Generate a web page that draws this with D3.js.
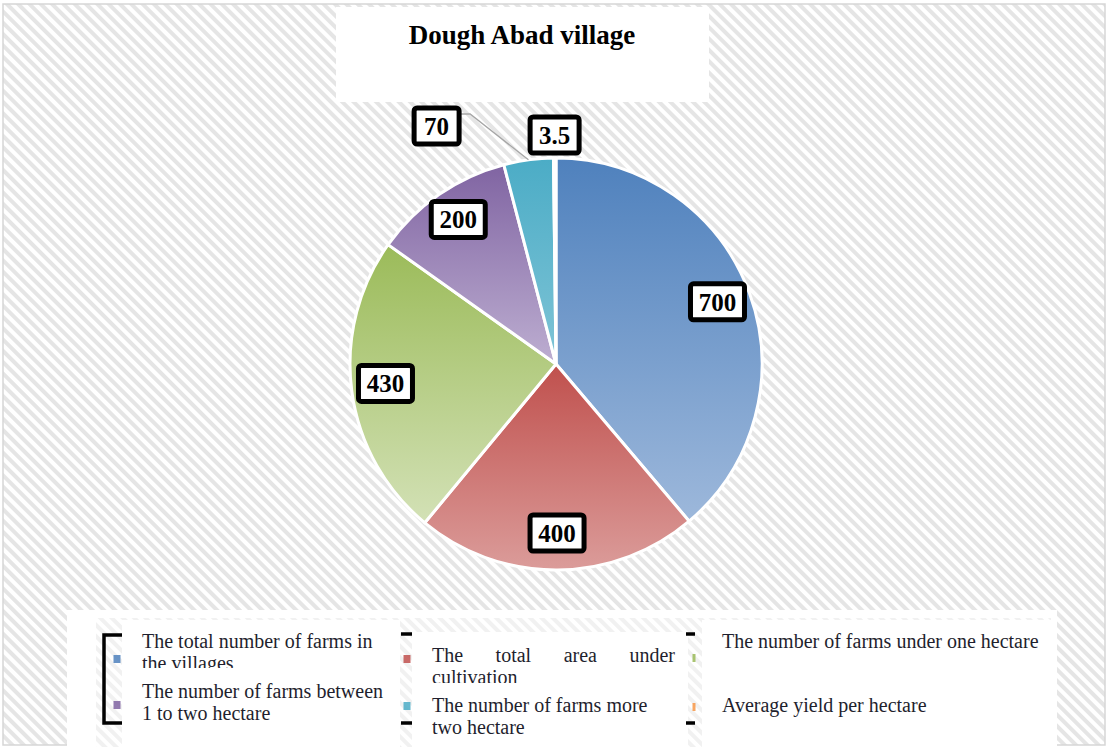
<!DOCTYPE html>
<html>
<head>
<meta charset="utf-8">
<script src="https://cdn.jsdelivr.net/npm/d3@7"></script>
<style>
  html, body { margin: 0; padding: 0; background: #fff; }
  svg { display: block; }
  text { font-family: "Liberation Serif", "Times New Roman", serif; }
</style>
</head>
<body>
<div id="chart"></div>
<script>
// data
var categories = [
  'The total number of farms in the villages',
  'The total area under cultivation',
  'The number of farms under one hectare',
  'The number of farms between 1 to two hectare',
  'The number of farms more two hectare',
  'Average yield per hectare'
];
var values = [700, 400, 430, 200, 70, 3.5];
var valueLabels = ['700', '400', '430', '200', '70', '3.5'];
var topColors = ['#4F81BD', '#C0504D', '#9BBB59', '#8064A2', '#4BACC6', '#F79646'];
var bottomColors = ['#9DB8DB', '#DB9C9A', '#D3E1B6', '#BDAED1', '#7FC4D6', '#FAB98A'];
var title = 'Dough Abad village';

var width = 1107,
	height = 747,
	cx = 556,
	cy = 364,
	radius = 206;

var svg = d3.select('#chart').append('svg')
	.attr('width', width)
	.attr('height', height);

var defs = svg.append('defs');

// diagonal hatch of the chart area
var hatch = defs.append('pattern')
	.attr('id', 'hatch')
	.attr('patternUnits', 'userSpaceOnUse')
	.attr('width', 8)
	.attr('height', 8)
	.attr('patternTransform', 'rotate(-45)');
hatch.append('rect').attr('width', 8).attr('height', 8).attr('fill', '#fff');
hatch.append('rect').attr('width', 4).attr('height', 8).attr('fill', '#E5E5E5');

// one vertical gradient per slice
values.forEach(function(v, i) {
	var g = defs.append('linearGradient')
		.attr('id', 'grad' + i)
		.attr('x1', 0).attr('y1', 0).attr('x2', 0).attr('y2', 1);
	g.append('stop').attr('offset', '0%').attr('stop-color', topColors[i]);
	g.append('stop').attr('offset', '100%').attr('stop-color', bottomColors[i]);
});

svg.append('rect')
	.attr('x', 3).attr('y', 4)
	.attr('width', width - 5).attr('height', height - 6)
	.attr('fill', 'url(#hatch)')
	.attr('stroke', '#D6D6D6')
	.attr('stroke-width', 1.5);

//Title box
svg.append('rect')
	.attr('x', 336).attr('y', 7)
	.attr('width', 373).attr('height', 95)
	.attr('fill', '#fff');
svg.append('text')
	.attr('x', 522).attr('y', 44)
	.attr('text-anchor', 'middle')
	.style('font-size', '27px')
	.style('font-weight', 'bold')
	.text(title);

//Pie
var pie = d3.pie().sort(null).value(function(d) { return d; });
var arcs = pie(values);
var arc = d3.arc().innerRadius(0).outerRadius(radius);
var labelArc = d3.arc().innerRadius(172).outerRadius(172);
var outerArc = d3.arc().innerRadius(radius + 23).outerRadius(radius + 23);
var edgeArc = d3.arc().innerRadius(radius).outerRadius(radius);

var gPie = svg.append('g').attr('transform', 'translate(' + cx + ',' + cy + ')');

gPie.selectAll('path.slice')
	.data(arcs)
	.enter().append('path')
	.attr('class', 'slice')
	.attr('d', arc)
	.attr('fill', function(d, i) { return 'url(#grad' + i + ')'; })
	.attr('stroke', '#fff')
	.attr('stroke-width', 3)
	.attr('stroke-linejoin', 'round');

// label positions: inside for big slices, outside for small ones
var small = 0.3; // radians
var placed = [];
arcs.slice().reverse().forEach(function(d) {
	var i = d.index;
	var w = valueLabels[i].length > 2 ? 54 : 45;
	if (valueLabels[i] === '3.5') w = 49;
	var p;
	if (d.endAngle - d.startAngle > small) {
		p = labelArc.centroid(d);
		p[1] -= 3;
	} else {
		p = outerArc.centroid(d);
		// push away from an already placed outside label
		placed.forEach(function(q) {
			if (Math.abs(q.x - p[0]) < (q.w + w) / 2 + 8 && Math.abs(q.y - p[1]) < 40) {
				p = [q.x - (q.w + w) / 2 - 71, q.y - 9];
				// leader line
				var e = edgeArc.centroid(d);
				var sx = p[0] + w / 2 + 2;
				gPie.append('polyline')
					.attr('points', [[sx, p[1] - 12], [sx + 9, p[1] - 12], e].join(' '))
					.attr('fill', 'none')
					.attr('stroke', '#A6A6A6')
					.attr('stroke-width', 1.3);
			}
		});
		placed.push({x: p[0], y: p[1], w: w});
	}
	d.lx = p[0];
	d.ly = p[1];
	d.lw = w;
});

var gLabels = gPie.selectAll('g.label')
	.data(arcs)
	.enter().append('g')
	.attr('class', 'label')
	.attr('transform', function(d) { return 'translate(' + d.lx + ',' + d.ly + ')'; });

gLabels.append('rect')
	.attr('x', function(d) { return -d.lw / 2; })
	.attr('y', -18)
	.attr('width', function(d) { return d.lw; })
	.attr('height', 36)
	.attr('rx', 3)
	.attr('fill', '#fff')
	.attr('stroke', '#000')
	.attr('stroke-width', 5);

gLabels.append('text')
	.attr('text-anchor', 'middle')
	.attr('y', 9)
	.style('font-size', '25px')
	.style('font-weight', 'bold')
	.text(function(d, i) { return valueLabels[i]; });

//Legend
svg.append('rect')
	.attr('x', 67).attr('y', 610)
	.attr('width', 990).attr('height', 137)
	.attr('fill', '#fff');
svg.append('rect')
	.attr('x', 96).attr('y', 618)
	.attr('width', 955).attr('height', 129)
	.attr('fill', 'url(#hatch)')
	.attr('opacity', 0.55);

var cols = [
	{x: 122, y: 620, w: 278, sx: 117},
	{x: 412, y: 632, w: 276, sx: 407},
	{x: 702, y: 620, w: 349, sx: 694}
];
cols.forEach(function(c) {
	svg.append('rect')
		.attr('x', c.x).attr('y', c.y)
		.attr('width', c.w).attr('height', 747 - c.y)
		.attr('fill', '#fff');
});

// bracket artefacts
svg.append('path')
	.attr('d', 'M122,635H104V723H122')
	.attr('fill', 'none').attr('stroke', '#000').attr('stroke-width', 3.5);
[[401, 412], [686, 695]].forEach(function(xs) {
	[634, 723].forEach(function(y) {
		svg.append('line')
			.attr('x1', xs[0]).attr('x2', xs[1])
			.attr('y1', y).attr('y2', y)
			.attr('stroke', '#000').attr('stroke-width', 3.5);
	});
});

// legend lines, order is column by column as in the picture
var legendLines = [
	[['The total number of farms in', 'the villages'], ['The number of farms between', '1 to two hectare']],
	[['The total area under', 'cultivation'], ['The number of farms more', 'two hectare']],
	[['The number of farms under one hectare'], ['Average yield per hectare']]
];
var legendOrder = [[0, 3], [1, 4], [2, 5]];
var rowText = [[648, 698], [662, 712], [648, 712]];
var rowMark = [[659, 705], [659, 706], [658, 707]];
var clipBottom = [[668, 747], [683, 747], [747, 747]];

legendOrder.forEach(function(col, ci) {
	col.forEach(function(idx, ri) {
		var narrow = ci === 2;
		svg.append('rect')
			.attr('x', cols[ci].sx - (narrow ? 1.5 : 3.5))
			.attr('y', rowMark[ci][ri] - 4)
			.attr('width', narrow ? 3 : 7)
			.attr('height', 8)
			.attr('fill', topColors[idx])
			.attr('opacity', 0.85);

		var clipId = 'clip' + ci + ri;
		defs.append('clipPath').attr('id', clipId)
			.append('rect')
			.attr('x', 0).attr('y', 0)
			.attr('width', width).attr('height', clipBottom[ci][ri]);

		var g = svg.append('g').attr('clip-path', 'url(#' + clipId + ')');
		var x0 = cols[ci].x + 20;
		legendLines[ci][ri].forEach(function(line, li) {
			var y = rowText[ci][ri] + li * 22;
			if (ci === 1 && ri === 0 && li === 0) {
				// justified first line in the middle column: equal gaps between words
				var words = line.split(' ');
				var nodes = words.map(function(wd) {
					return g.append('text')
						.attr('y', y)
						.attr('fill', '#1f1f2e')
						.style('font-size', '20px')
						.text(wd);
				});
				var lens = nodes.map(function(n) { return n.node().getComputedTextLength(); });
				var gap = (675 - x0 - d3.sum(lens)) / (words.length - 1);
				var x = x0;
				nodes.forEach(function(n, wi) {
					n.attr('x', x);
					x += lens[wi] + gap;
				});
			} else {
				g.append('text')
					.attr('x', x0).attr('y', y)
					.attr('fill', '#1f1f2e')
					.style('font-size', '20px')
					.text(line);
			}
		});
	});
});
</script>
</body>
</html>
